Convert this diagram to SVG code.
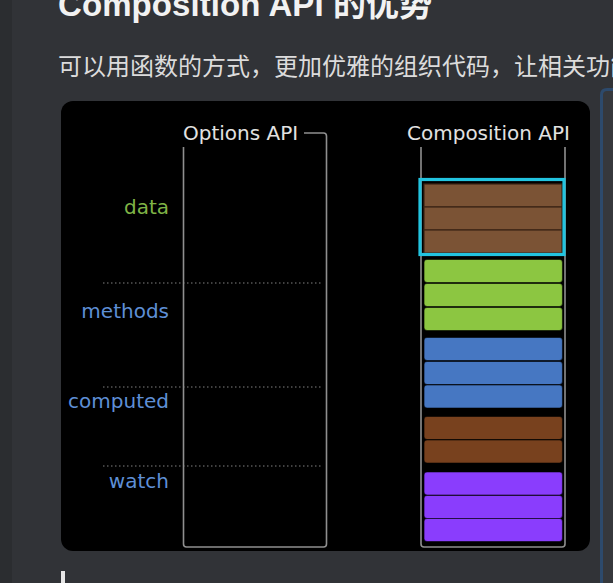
<svg xmlns="http://www.w3.org/2000/svg" width="613" height="583" viewBox="0 0 613 583">
  <style>
    .lbl { font-family: "DejaVu Sans", Verdana, sans-serif; font-size: 20px; }
    .hdr { fill: #e2e2e2; }
    .grn { fill: #7fb446; }
    .blu { fill: #5e8fd6; }
    .col { fill: none; stroke: #8f8f8f; stroke-width: 1.6; }
    .dot { stroke: #555555; stroke-width: 1.5; stroke-dasharray: 1.5 2.5; }
    .bar { stroke: rgba(0,0,0,0.55); stroke-width: 1.2; }
    .g { fill: #8cc641; }
    .b { fill: #4677c2; }
    .br { fill: #78411e; }
    .p { fill: #8a3dfd; }
    .d { fill: #7b5335; stroke: #3b2414; stroke-width: 1.2; }
  </style>
  <rect x="0" y="0" width="613" height="583" fill="#313337"/>
  <rect x="0" y="0" width="12" height="583" fill="#2b2d30"/>
  <rect x="602" y="89" width="11" height="494" fill="#36383c"/>
  <path d="M601.5,583 V95 Q601.5,89.5 607,89.5 H613" fill="none" stroke="#2d4a6c" stroke-width="3"/>

  <text x="58" y="16" font-family="'Liberation Sans', 'Noto Sans CJK SC', sans-serif" font-size="33" font-weight="bold" fill="#f2f2f2" textLength="374" lengthAdjust="spacing">Composition API 的优势</text>
  <text x="58" y="75" font-family="'Noto Sans CJK SC', sans-serif" font-size="24" fill="#dcdcdc">可以用函数的方式，更加优雅的组织代码，让相关功能</text>

  <rect x="61" y="101" width="529" height="450" rx="12" fill="#000"/>

  <g id="connectors">
    <line class="dot" x1="103" y1="283" x2="321" y2="283"/>
    <line class="dot" x1="103" y1="387" x2="321" y2="387"/>
    <line class="dot" x1="103" y1="466" x2="321" y2="466"/>
  </g>

  <g id="labels">
    <text class="lbl grn" x="169" y="214" text-anchor="end">data</text>
    <text class="lbl blu" x="169" y="318" text-anchor="end">methods</text>
    <text class="lbl blu" x="169" y="408" text-anchor="end">computed</text>
    <text class="lbl blu" x="169" y="488" text-anchor="end">watch</text>
  </g>

  <g id="options-api">
    <path class="col" d="M183.5,147 V544 Q183.5,547 186.5,547 H323.5 Q326.5,547 326.5,544 V136 Q326.5,133 323.5,133 H304"/>
    <text class="lbl hdr" x="183" y="140">Options API</text>
  </g>

  <g id="composition-api">
    <path class="col" d="M421,147 V544 Q421,547 424,547 H562 Q565,547 565,544 V147"/>
    <text class="lbl hdr" x="407" y="140">Composition API</text>
  </g>

  <g id="data-block">
    <rect class="d" x="424" y="184" width="138" height="23"/>
    <rect class="d" x="424" y="207" width="138" height="23"/>
    <rect class="d" x="424" y="230" width="138" height="23"/>
    <rect x="420" y="179.5" width="144" height="75" fill="none" stroke="#22c4e0" stroke-width="3.2"/>
  </g>

  <g id="methods-block">
    <rect class="bar g" x="424" y="259.5" width="138.5" height="23" rx="3"/>
    <rect class="bar g" x="424" y="283.5" width="138.5" height="23" rx="3"/>
    <rect class="bar g" x="424" y="307.5" width="138.5" height="23" rx="3"/>
  </g>

  <g id="computed-block">
    <rect class="bar b" x="424" y="337.5" width="138.5" height="23" rx="3"/>
    <rect class="bar b" x="424" y="361.5" width="138.5" height="23" rx="3"/>
    <rect class="bar b" x="424" y="385" width="138.5" height="23" rx="3"/>
  </g>

  <g id="brown-block">
    <rect class="bar br" x="424" y="416.5" width="138.5" height="23" rx="3"/>
    <rect class="bar br" x="424" y="440" width="138.5" height="23" rx="3"/>
  </g>

  <g id="watch-block">
    <rect class="bar p" x="424" y="472" width="138.5" height="23" rx="3"/>
    <rect class="bar p" x="424" y="495.5" width="138.5" height="23" rx="3"/>
    <rect class="bar p" x="424" y="518.5" width="138.5" height="23" rx="3"/>
  </g>

  <rect x="61" y="571" width="4" height="12" fill="#e6e6e6"/>
</svg>
